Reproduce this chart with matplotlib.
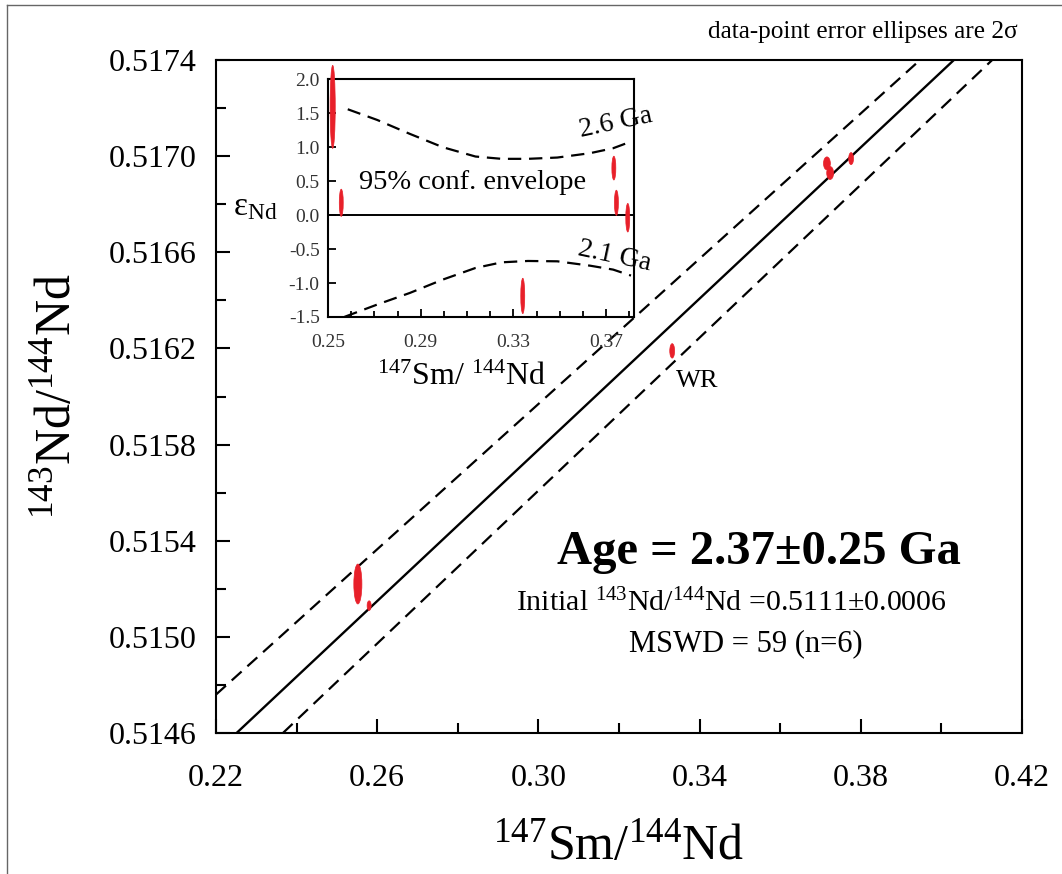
import matplotlib
matplotlib.use("Agg")
import matplotlib.pyplot as plt
from matplotlib.lines import Line2D
from matplotlib.patches import Ellipse
from matplotlib.ticker import FormatStrFormatter

plt.rcParams['font.family'] = ['Liberation Serif', 'DejaVu Serif']
plt.rcParams['mathtext.fontset'] = 'custom'
plt.rcParams['mathtext.rm'] = 'Liberation Serif'
plt.rcParams['mathtext.it'] = 'Liberation Serif:italic'
plt.rcParams['mathtext.bf'] = 'Liberation Serif:bold'

# isochron samples: 147Sm/144Nd, 143Nd/144Nd and 2-sigma ellipse axes
sm_nd = [0.2552, 0.2580, 0.3332, 0.3716, 0.3724, 0.3776]
nd_nd = [0.51522, 0.51513, 0.51619, 0.51697, 0.51693, 0.51699]
err_x = [0.0020, 0.0010, 0.0012, 0.0017, 0.0017, 0.0012]
err_y = [0.000166, 0.00004, 0.00006, 0.000054, 0.000054, 0.00005]

# regression line and 95% envelope (end points)
fit_x = [0.2251, 0.4031]
fit_y = [0.5146, 0.5174]
env_hi_x = [0.2200, 0.3947]
env_hi_y = [0.51476, 0.5174]
env_lo_x = [0.2366, 0.4126]
env_lo_y = [0.5146, 0.5174]

x_major = [0.22, 0.26, 0.30, 0.34, 0.38, 0.42]
x_minor = [0.24, 0.28, 0.32, 0.36, 0.40]
y_major = [0.5146, 0.5150, 0.5154, 0.5158, 0.5162, 0.5166, 0.5170, 0.5174]
y_minor = [0.5148, 0.5152, 0.5156, 0.5160, 0.5164, 0.5168, 0.5172]

# inset: epsilon-Nd deviations from the isochron
eps_x = [0.2520, 0.2557, 0.3340, 0.3733, 0.3744, 0.3793]
eps_y = [1.59, 0.18, -1.19, 0.69, 0.18, -0.04]
eps_w = [0.0022, 0.0017, 0.0017, 0.0017, 0.0017, 0.0017]
eps_h = [1.22, 0.40, 0.52, 0.35, 0.37, 0.42]

up_x = [0.2585, 0.2712, 0.2853, 0.2995, 0.3136, 0.3249, 0.3362, 0.3489, 0.3630, 0.3730, 0.3807]
up_y = [1.555, 1.398, 1.193, 0.997, 0.860, 0.826, 0.826, 0.845, 0.909, 0.982, 1.080]
lo_x = [0.2571, 0.2712, 0.2853, 0.2995, 0.3136, 0.3249, 0.3362, 0.3489, 0.3630, 0.3730, 0.3807]
lo_y = [-1.498, -1.317, -1.146, -0.950, -0.779, -0.696, -0.676, -0.681, -0.745, -0.803, -0.891]

ix_major = [0.25, 0.29, 0.33, 0.37]
ix_minor = [0.26, 0.27, 0.28, 0.30, 0.31, 0.32, 0.34, 0.35, 0.36, 0.38]
iy_major = [-1.5, -1.0, -0.5, 0.0, 0.5, 1.0, 1.5, 2.0]

RED = "#e8202a"
dash = (0, (6, 3.5))

fig = plt.figure(figsize=(10.62, 8.74), dpi=100)
ax = fig.add_axes([0.2034, 0.1613, 0.7589, 0.7700])

ax.plot(fit_x, fit_y, color="black", lw=1.7)
ax.plot(env_hi_x, env_hi_y, color="black", lw=1.6, linestyle=dash)
ax.plot(env_lo_x, env_lo_y, color="black", lw=1.6, linestyle=dash)
for x, y, w, h in zip(sm_nd, nd_nd, err_x, err_y):
    ax.add_patch(Ellipse((x, y), w, h, facecolor=RED, edgecolor=RED, lw=0.5, zorder=3))

ax.set_xlim(0.22, 0.42)
ax.set_ylim(0.5146, 0.5174)
ax.set_xticks(x_major)
ax.set_xticks(x_minor, minor=True)
ax.set_yticks(y_major)
ax.set_yticks(y_minor, minor=True)
ax.xaxis.set_major_formatter(FormatStrFormatter("%.2f"))
ax.yaxis.set_major_formatter(FormatStrFormatter("%.4f"))
ax.tick_params(which="both", direction="in", top=False, right=False, width=1.5,
               labelsize=23)
ax.tick_params(axis="y", pad=14)
ax.tick_params(axis="x", pad=22)
ax.tick_params(which="major", length=10)
ax.tick_params(which="minor", length=7)
for s in ax.spines.values():
    s.set_linewidth(1.5)

ax.set_xlabel(r"$^{147}$Sm/$^{144}$Nd", fontsize=36, labelpad=22)
ax.set_ylabel(r"$^{143}$Nd/$^{144}$Nd", fontsize=36, labelpad=20)

ax.annotate("WR", (sm_nd[2], nd_nd[2]), xytext=(18, -22), textcoords="offset points",
            fontsize=19, ha="center", va="center")

fig.text(0.812, 0.9634, "data-point error ellipses are 2σ", fontsize=18.2,
         ha="center", va="center")
fig.text(0.7147, 0.3684, "Age = 2.37±0.25 Ga", fontsize=35, fontweight="bold",
         ha="center", va="center")
fig.text(0.689, 0.310, r"Initial $^{143}$Nd/$^{144}$Nd =0.5111±0.0006", fontsize=21.5,
         ha="center", va="center")
fig.text(0.702, 0.264, "MSWD = 59 (n=6)", fontsize=22, ha="center", va="center")

# inset
ins = fig.add_axes([0.3089, 0.6373, 0.2881, 0.2723])
ins.axhline(0, color="black", lw=1.4)
ins.plot(up_x, up_y, color="black", lw=1.6, linestyle=dash)
ins.plot(lo_x, lo_y, color="black", lw=1.6, linestyle=dash)
for x, y, w, h in zip(eps_x, eps_y, eps_w, eps_h):
    ins.add_patch(Ellipse((x, y), w, h, facecolor=RED, edgecolor=RED, lw=0.5,
                          zorder=3, clip_on=False))
ins.set_xlim(0.25, 0.382)
ins.set_ylim(-1.5, 2.0)
ins.set_xticks(ix_major)
ins.set_xticks(ix_minor, minor=True)
ins.set_yticks(iy_major)
ins.xaxis.set_major_formatter(FormatStrFormatter("%.2f"))
ins.yaxis.set_major_formatter(FormatStrFormatter("%.1f"))
ins.tick_params(which="both", direction="in", top=False, right=False, width=1.3,
                labelsize=14, labelcolor="#333333")
ins.tick_params(axis="y", pad=6)
ins.tick_params(axis="x", pad=12)
ins.tick_params(which="major", length=6)
ins.tick_params(which="minor", length=4)
for s in ins.spines.values():
    s.set_linewidth(1.5)

ins.text(0.3122, 0.48, "95% conf. envelope", fontsize=20.5, ha="center", va="center")
ins.text(0.3744, 1.35, "2.6 Ga", fontsize=20, ha="center", va="center", rotation=12,
         clip_on=False)
ins.text(0.3735, -0.61, "2.1 Ga", fontsize=20, ha="center", va="center", rotation=-12,
         clip_on=False)
fig.text(0.219, 0.763, r"$\mathrm{ε}_{\mathrm{Nd}}$", fontsize=24, ha="left", va="center")
fig.text(0.435, 0.568, r"$^{147}$Sm/ $^{144}$Nd", fontsize=23, ha="center", va="center")

# page frame
fig.add_artist(Line2D([0.0066, 0.0066], [0.0, 0.994], transform=fig.transFigure,
                      color="#666666", lw=1))
fig.add_artist(Line2D([0.0066, 1.0], [0.994, 0.994], transform=fig.transFigure,
                      color="#666666", lw=1))

fig.savefig("out.png", dpi=100)
